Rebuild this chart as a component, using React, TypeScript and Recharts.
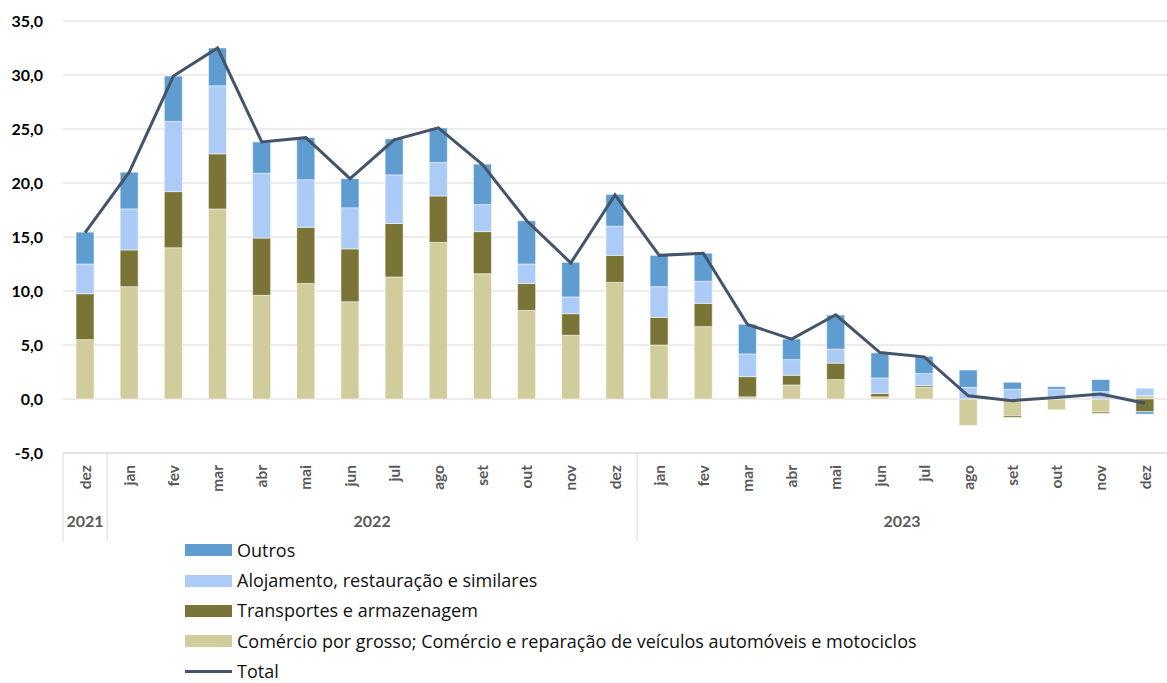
import React from "react";
import {
  ComposedChart,
  Bar,
  Line,
  XAxis,
  YAxis,
  CartesianGrid,
} from "recharts";

// categories
const months = [
  "dez",
  "jan", "fev", "mar", "abr", "mai", "jun", "jul", "ago", "set", "out", "nov", "dez",
  "jan", "fev", "mar", "abr", "mai", "jun", "jul", "ago", "set", "out", "nov", "dez",
];
const years = [
  "2021",
  "2022", "2022", "2022", "2022", "2022", "2022", "2022", "2022", "2022", "2022", "2022", "2022",
  "2023", "2023", "2023", "2023", "2023", "2023", "2023", "2023", "2023", "2023", "2023", "2023",
];

// series values (p.p.)
const comercio = [
  5.5,
  10.4, 14.0, 17.6, 9.6, 10.7, 9.0, 11.3, 14.5, 11.6, 8.2, 5.9, 10.8,
  5.0, 6.7, 0.2, 1.3, 1.8, 0.2, 1.1, -2.45, -1.55, -1.0, -1.2, 0.3,
];
const transportes = [
  4.25,
  3.4, 5.2, 5.1, 5.3, 5.2, 4.9, 4.95, 4.3, 3.9, 2.5, 2.0, 2.5,
  2.55, 2.15, 1.87, 0.9, 1.52, 0.32, 0.15, 0.0, -0.15, 0.0, -0.13, -1.18,
];
const alojamento = [
  2.75,
  3.8, 6.5, 6.3, 6.0, 4.4, 3.8, 4.5, 3.1, 2.5, 1.8, 1.55, 2.7,
  2.85, 2.05, 2.1, 1.45, 1.3, 1.43, 1.1, 1.08, 0.9, 0.9, 0.68, 0.7,
];
const outros = [
  2.95,
  3.4, 4.2, 3.5, 2.9, 3.9, 2.7, 3.35, 3.2, 3.75, 4.0, 3.2, 2.95,
  2.9, 2.6, 2.75, 1.9, 3.15, 2.32, 1.6, 1.6, 0.65, 0.24, 1.12, -0.22,
];
const total = [
  15.4,
  21.0, 29.9, 32.5, 23.8, 24.2, 20.4, 24.0, 25.1, 21.7, 16.5, 12.6, 18.9,
  13.3, 13.5, 6.9, 5.55, 7.8, 4.3, 3.9, 0.3, -0.15, 0.15, 0.47, -0.4,
];
const yTicks = [-5, 0, 5, 10, 15, 20, 25, 30, 35];

const data = months.map((m, i) => ({
  key: i,
  month: m,
  year: years[i],
  comercio: comercio[i],
  transportes: transportes[i],
  alojamento: alojamento[i],
  outros: outros[i],
  total: total[i],
}));

const COLORS = {
  outros: "#5f9dd1",
  alojamento: "#adcbf7",
  transportes: "#7a7537",
  comercio: "#d1cc9b",
  total: "#44546a",
};

const legendItems = [
  { label: "Outros", color: COLORS.outros, line: false },
  { label: "Alojamento, restauração e similares", color: COLORS.alojamento, line: false },
  { label: "Transportes e armazenagem", color: COLORS.transportes, line: false },
  {
    label: "Comércio por grosso; Comércio e reparação de veículos automóveis e motociclos",
    color: COLORS.comercio,
    line: false,
  },
  { label: "Total", color: COLORS.total, line: true },
];

const W = 1167;
const LEFT = 63;
const BW = (W - LEFT) / months.length;
const FONT = "Lato, 'Open Sans', sans-serif";

const fmt = (v: number) => v.toFixed(1).replace(".", ",");

function MonthTick(props: any) {
  const { x, y, payload, index } = props;
  const label = months[index] ?? payload.value;
  const isYearStart = index === 0 || years[index] !== years[index - 1];
  return (
    <g>
      {isYearStart && (
        <line
          x1={x - BW / 2}
          x2={x - BW / 2}
          y1={y}
          y2={y + 88}
          stroke="#d9d9d9"
          strokeWidth={1}
        />
      )}
      <text
        x={0}
        y={0}
        transform={`translate(${x},${y + 12}) rotate(-90)`}
        textAnchor="end"
        dy="0.36em"
        fill="#595959"
        fontSize={15.5}
        fontWeight={700}
        fontFamily={FONT}
      >
        {label}
      </text>
    </g>
  );
}

function YearTick(props: any) {
  const { x, y, index } = props;
  const yr = years[index];
  const first = years.indexOf(yr);
  const last = years.lastIndexOf(yr);
  const mid = Math.floor((first + last) / 2);
  if (index !== mid) return <g />;
  const cx = x + ((first + last) / 2 - mid) * BW;
  return (
    <text
      x={cx}
      y={y}
      textAnchor="middle"
      dy="0.36em"
      fill="#595959"
      fontSize={16}
      fontWeight={700}
      fontFamily={FONT}
    >
      {yr}
    </text>
  );
}

export default function App() {
  return (
    <div style={{ position: "absolute", left: 0, top: 0, width: W, height: 683, background: "#fff" }}>
      <ComposedChart
        width={W}
        height={555}
        data={data}
        stackOffset="sign"
        barSize={18}
        margin={{ top: 21, right: 0, left: 0, bottom: 0 }}
      >
        <CartesianGrid vertical={false} stroke="#d9d9d9" />
        <XAxis
          xAxisId="m"
          dataKey="key"
          interval={0}
          axisLine={{ stroke: "#d9d9d9" }}
          tickLine={false}
          tickSize={0}
          tickMargin={0}
          height={68}
          tick={<MonthTick />}
        />
        <XAxis
          xAxisId="y"
          dataKey="key"
          interval={0}
          axisLine={false}
          tickLine={false}
          tickSize={0}
          tickMargin={0}
          height={34}
          tick={<YearTick />}
        />
        <YAxis
          width={LEFT}
          domain={[-5, 35]}
          ticks={yTicks}
          interval={0}
          axisLine={false}
          tickLine={false}
          tickFormatter={fmt}
          tick={{ fill: "#000", fontSize: 16, fontWeight: 700, fontFamily: FONT }}
          tickMargin={14}
        />
        <Bar xAxisId="m" dataKey="comercio" stackId="a" fill={COLORS.comercio} stroke="#fff" strokeWidth={0.5} isAnimationActive={false} />
        <Bar xAxisId="m" dataKey="transportes" stackId="a" fill={COLORS.transportes} stroke="#fff" strokeWidth={0.5} isAnimationActive={false} />
        <Bar xAxisId="m" dataKey="alojamento" stackId="a" fill={COLORS.alojamento} stroke="#fff" strokeWidth={0.5} isAnimationActive={false} />
        <Bar xAxisId="m" dataKey="outros" stackId="a" fill={COLORS.outros} stroke="#fff" strokeWidth={0.5} isAnimationActive={false} />
        <Line
          xAxisId="m"
          type="linear"
          dataKey="total"
          stroke={COLORS.total}
          strokeWidth={3}
          dot={false}
          activeDot={false}
          isAnimationActive={false}
        />
      </ComposedChart>
      <div style={{ position: "absolute", left: 185, top: 535, fontFamily: "'Open Sans', sans-serif" }}>
        {legendItems.map((it) => (
          <div key={it.label} style={{ display: "flex", alignItems: "center", height: 30.4 }}>
            {it.line ? (
              <div style={{ width: 47, height: 3, background: it.color }} />
            ) : (
              <div style={{ width: 47, height: 12, background: it.color }} />
            )}
            <span style={{ marginLeft: 5, fontSize: 18, lineHeight: "15px", color: "#111", whiteSpace: "nowrap" }}>
              {it.label}
            </span>
          </div>
        ))}
      </div>
    </div>
  );
}
